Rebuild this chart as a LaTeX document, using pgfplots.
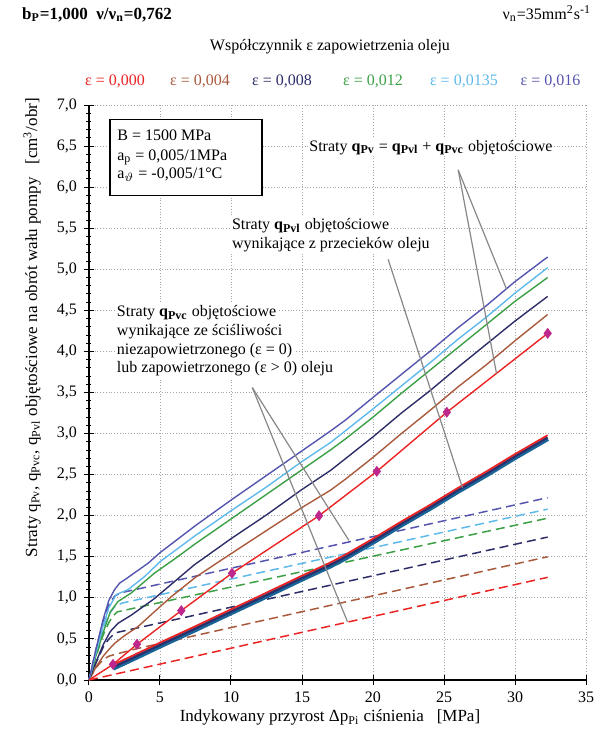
\documentclass[border=0pt]{standalone}
\usepackage{fontspec}
\setmainfont{Liberation Serif}
\usepackage{pgfplots}
\pgfplotsset{compat=1.18}

\definecolor{cRed}{RGB}{235,35,35}
\definecolor{cBrown}{RGB}{170,90,60}
\definecolor{cNavy}{RGB}{45,45,105}
\definecolor{cGreen}{RGB}{60,160,70}
\definecolor{cLight}{RGB}{95,185,235}
\definecolor{cPurple}{RGB}{85,85,175}
\definecolor{cMark}{RGB}{190,40,140}
\definecolor{cTeal}{RGB}{25,100,150}
\definecolor{cLead}{RGB}{135,135,135}

\begin{document}
\begin{tikzpicture}[font=\fontsize{8}{9.5}\selectfont]
\useasboundingbox (-44.5pt,-31.5pt) rectangle (257pt,340pt);
\begin{axis}[
  at={(0,0)}, anchor=south west,
  width=248.5pt, height=287.5pt, scale only axis,
  xmin=0, xmax=35, ymin=0, ymax=7,
  xtick={0,5,...,35}, ytick={0,0.5,...,7},
  minor y tick num=4,
  axis x line*=bottom, axis y line*=left,
  axis line style={-, black, line width=0.7pt},
  tick align=center, major tick length=5pt, minor tick length=2.5pt,
  tick style={black, line width=0.5pt},
  grid=major, grid style={densely dotted, gray!70, line width=0.4pt},
  /pgf/number format/assume math mode=true,
  yticklabel style={/pgf/number format/.cd, fixed, fixed zerofill, precision=1, use comma},
  ticklabel style={font=\fontsize{8}{9.5}\selectfont},
  clip=false,
  every axis plot/.append style={line width=0.7pt},
  dashed style/.style={dash pattern=on 4.5pt off 2.5pt, line width=0.75pt},
]
% q_Pvc - compressibility (dashed)
\addplot[cRed, dashed style] coordinates {(0,0) (32.3,1.25)};
\addplot[cBrown, dashed style] coordinates {(0,0) (0.5,0.15) (1.0,0.25) (1.4,0.29) (1.8,0.31) (3.45,0.385) (32.3,1.50)};
\addplot[cNavy, dashed style] coordinates {(0,0) (0.5,0.21) (1.0,0.40) (1.4,0.50) (1.7,0.55) (2.0,0.58) (32.3,1.74)};
\addplot[cGreen, dashed style] coordinates {(0,0) (0.5,0.29) (1.0,0.55) (1.4,0.70) (1.7,0.78) (2.0,0.83) (32.3,1.97)};
\addplot[cLight, dashed style] coordinates {(0,0) (0.5,0.33) (1.0,0.63) (1.4,0.80) (1.8,0.89) (2.3,0.935) (32.3,2.08)};
\addplot[cPurple, dashed style] coordinates {(0,0) (0.5,0.38) (1.0,0.72) (1.4,0.92) (1.8,1.02) (2.2,1.06) (32.3,2.22)};

% q_Pvl - leakage (bundle)
\addplot[cTeal, line width=2.6pt] coordinates {(1.69,0.145) (3,0.25) (5,0.415) (7.5,0.615) (10,0.82) (12.1,0.99) (15,1.23) (17,1.39) (18.1,1.49) (20,1.68) (22,1.89) (24,2.09) (26,2.30) (28,2.50) (30,2.71) (32.3,2.94)};
\addplot[cNavy, line width=0.9pt] coordinates {(1.69,0.155) (3,0.26) (5,0.425) (7.5,0.625) (10,0.83) (12.1,1.0) (15,1.24) (17,1.40) (18.1,1.50) (20,1.69) (22,1.90) (24,2.10) (26,2.31) (28,2.51) (30,2.72) (32.3,2.95)};
\addplot[cRed, line width=0.9pt] coordinates {(1.69,0.185) (3,0.29) (5,0.455) (7.5,0.655) (10,0.86) (12.1,1.03) (15,1.27) (17,1.43) (18.1,1.53) (20,1.72) (22,1.93) (24,2.13) (26,2.34) (28,2.54) (30,2.75) (32.3,2.98)};

% q_Pv - total (solid)
\addplot[cBrown] coordinates {(0,0) (0.5,0.16) (1.0,0.29) (1.5,0.39) (1.81,0.447) (2.5,0.54) (3.45,0.65) (4.6,0.83) (5.8,1.015) (7.5,1.25) (9.32,1.46) (12.5,1.82) (15,2.10) (17,2.31) (18.1,2.45) (20,2.71) (22,3.00) (24,3.28) (26,3.57) (28,3.84) (30,4.13) (32.3,4.45)};
\addplot[cNavy] coordinates {(0,0) (0.5,0.22) (1.0,0.43) (1.5,0.59) (2.04,0.69) (2.98,0.79) (4.6,0.99) (7.4,1.40) (10,1.72) (12.5,2.01) (15,2.32) (17,2.55) (18.1,2.70) (20,2.96) (22,3.25) (24,3.52) (26,3.81) (28,4.09) (30,4.37) (32.3,4.67)};
\addplot[cGreen] coordinates {(0,0) (0.5,0.30) (1.0,0.58) (1.5,0.83) (2.04,0.955) (2.98,1.06) (4.6,1.30) (6.0,1.47) (7.5,1.66) (10,1.96) (12.5,2.26) (15,2.56) (17,2.80) (18.1,2.94) (20,3.20) (22,3.49) (24,3.77) (26,4.05) (28,4.33) (30,4.61) (32.3,4.90)};
\addplot[cLight] coordinates {(0,0) (0.5,0.34) (1.0,0.66) (1.4,0.88) (1.92,1.04) (2.75,1.10) (3.92,1.26) (5.0,1.44) (7.5,1.76) (10,2.06) (12.5,2.35) (15,2.66) (17,2.89) (18.1,3.04) (20,3.30) (22,3.58) (24,3.86) (26,4.15) (28,4.42) (30,4.71) (32.3,5.02)};
\addplot[cPurple] coordinates {(0,0) (0.5,0.38) (1.0,0.74) (1.4,0.97) (1.8,1.10) (2.16,1.18) (2.6,1.23) (3.0,1.28) (4.15,1.42) (5,1.55) (7.5,1.88) (10,2.19) (12.5,2.49) (15,2.79) (17,3.03) (18.1,3.17) (20,3.44) (22,3.72) (24,4.00) (26,4.29) (28,4.56) (30,4.85) (32.3,5.15)};
\addplot[cRed, mark=diamond*, mark size=2.2pt, mark indices={2,3,4,5,6,7,8,9},
  mark options={cMark, solid}] coordinates {(0,0) (1.69,0.19) (3.38,0.435) (6.5,0.845) (10.07,1.30) (16.2,2.0) (20.27,2.54) (25.2,3.26) (32.3,4.22)};

% leader lines
\addplot[cLead, line width=0.6pt] coordinates {(26.0,6.21) (28.7,3.73)};
\addplot[cLead, line width=0.6pt] coordinates {(26.0,6.21) (29.4,4.76)};
\addplot[cLead, line width=0.6pt] coordinates {(21.07,5.12) (26.3,2.34)};
\addplot[cLead, line width=0.6pt] coordinates {(11.5,3.56) (18.3,1.70)};
\addplot[cLead, line width=0.6pt] coordinates {(11.5,3.56) (18.2,0.71)};

% texts inside
\draw[fill=white, line width=0.6pt] (axis cs:1.48,6.82) rectangle (axis cs:12.18,5.90);
\node[anchor=base west, inner sep=0pt] at (axis cs:1.97,6.57) {B = 1500 MPa};
\node[anchor=base west, inner sep=0pt] at (axis cs:1.97,6.32) {a\textsubscript{p} = 0,005/1MPa};
\node[anchor=base west, inner sep=0pt] at (axis cs:1.97,6.10) {a\textsubscript{$\vartheta$} = -0,005/1°C};

\node[anchor=base west, fill=white, inner sep=0.8pt] at (axis cs:15.38,6.44) {Straty \textbf{q\textsubscript{Pv}} = \textbf{q\textsubscript{Pvl}} + \textbf{q\textsubscript{Pvc}} objętościowe};
\node[anchor=base west, fill=white, inner sep=0.8pt] at (axis cs:9.93,5.48) {Straty \textbf{q\textsubscript{Pvl}} objętościowe};
\node[anchor=base west, fill=white, inner sep=0.8pt] at (axis cs:9.93,5.25) {wynikające z przecieków oleju};
\node[anchor=base west, fill=white, inner sep=0.8pt] at (axis cs:1.83,4.42) {Straty \textbf{q\textsubscript{Pvc}} objętościowe};
\node[anchor=base west, fill=white, inner sep=0.8pt] at (axis cs:1.83,4.19) {wynikające ze ściśliwości};
\node[anchor=base west, fill=white, inner sep=0.8pt] at (axis cs:1.83,3.96) {niezapowietrzonego (ε = 0)};
\node[anchor=base west, fill=white, inner sep=0.8pt] at (axis cs:1.83,3.74) {lub zapowietrzonego (ε > 0) oleju};

% texts outside
\node[anchor=base west, font=\fontsize{8.5}{10}\selectfont\bfseries] at (axis cs:-5.2,8.04) {b\textsubscript{P}=1,000\ \ ν/ν\textsubscript{n}=0,762};
\node[anchor=base east] at (axis cs:35.85,8.04) {ν\textsubscript{n}=35mm\textsuperscript{2}s\textsuperscript{-1}};
\node[anchor=base] at (axis cs:16.97,7.66) {Współczynnik ε zapowietrzenia oleju};
\node[anchor=base, text=cRed] at (axis cs:1.83,7.24) {ε = 0,000};
\node[anchor=base, text=cBrown] at (axis cs:7.82,7.24) {ε = 0,004};
\node[anchor=base, text=cNavy] at (axis cs:13.6,7.24) {ε = 0,008};
\node[anchor=base, text=cGreen] at (axis cs:20.0,7.24) {ε = 0,012};
\node[anchor=base, text=cLight] at (axis cs:26.4,7.24) {ε = 0,0135};
\node[anchor=base, text=cPurple] at (axis cs:32.5,7.24) {ε = 0,016};
\node[anchor=base, font=\fontsize{8.5}{10}\selectfont] at (axis cs:16.97,-0.51) {Indykowany przyrost Δp\textsubscript{Pi} ciśnienia\ \ \ [MPa]};
\node[anchor=base, rotate=90, font=\fontsize{8.5}{10}\selectfont] at (axis cs:-3.66,4.29) {Straty q\textsubscript{Pv}, q\textsubscript{Pvc}, q\textsubscript{Pvl} objętościowe na obrót wału pompy\ \ \ [cm\textsuperscript{3}/obr]};
\end{axis}
\end{tikzpicture}
\end{document}
